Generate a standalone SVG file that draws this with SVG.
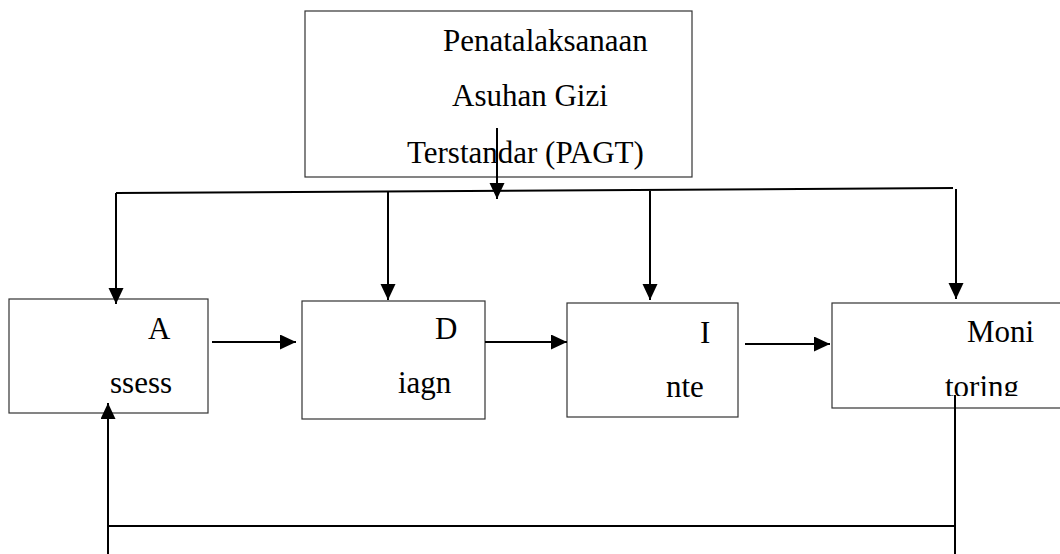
<svg xmlns="http://www.w3.org/2000/svg" width="1060" height="554" viewBox="0 0 1060 554">
<style>
.box{fill:#fff;stroke:#333;stroke-width:1.2}
.t{font-family:"Liberation Serif","Times New Roman",serif;font-size:31px;fill:#000}
.c{fill:none;stroke:#000;stroke-width:2}
</style>
<defs>
<marker id="ah" markerUnits="userSpaceOnUse" markerWidth="18" markerHeight="16" refX="16" refY="7.5" orient="auto">
<path d="M0,0 L16,7.5 L0,15 Z" fill="#000"/>
</marker>
<clipPath id="mclip"><rect x="831" y="303" width="229" height="93"/></clipPath>
</defs>
<g id="pagt">
<rect class="box" x="305" y="11" width="387" height="166"/>
<text class="t" x="443" y="51">Penatalaksanaan</text>
<text class="t" x="452" y="106">Asuhan Gizi</text>
<text class="t" x="407" y="163">Terstandar (PAGT)</text>
</g>
<g id="assess">
<rect class="box" x="9" y="299" width="199" height="114"/>
<text class="t" x="148" y="339">A</text>
<text class="t" x="110" y="393">ssess</text>
</g>
<g id="diagn">
<rect class="box" x="302" y="301" width="183" height="118"/>
<text class="t" x="435" y="339">D</text>
<text class="t" x="398" y="393">iagn</text>
</g>
<g id="inte">
<rect class="box" x="567" y="303" width="171" height="114"/>
<text class="t" x="700" y="343">I</text>
<text class="t" x="666" y="397">nte</text>
</g>
<g id="monitoring">
<rect class="box" x="832" y="303" width="240" height="105"/>
<text class="t" x="967" y="342">Moni</text>
<text class="t" x="945" y="397" clip-path="url(#mclip)">toring</text>
</g>
<g id="connectors">
<line class="c" x1="116" y1="193" x2="953" y2="188"/>
<line class="c" x1="497" y1="128" x2="497" y2="199" marker-end="url(#ah)"/>
<line class="c" x1="116" y1="193" x2="116" y2="304" marker-end="url(#ah)"/>
<line class="c" x1="388" y1="192" x2="388" y2="300" marker-end="url(#ah)"/>
<line class="c" x1="650" y1="191" x2="650" y2="300" marker-end="url(#ah)"/>
<line class="c" x1="956" y1="189" x2="956" y2="299" marker-end="url(#ah)"/>
<line class="c" x1="212" y1="342" x2="296" y2="342" marker-end="url(#ah)"/>
<line class="c" x1="485" y1="342" x2="567" y2="342" marker-end="url(#ah)"/>
<line class="c" x1="745" y1="344" x2="830" y2="344" marker-end="url(#ah)"/>
<line class="c" x1="955" y1="395" x2="955" y2="554"/>
<line class="c" x1="108" y1="526" x2="955" y2="526"/>
<line class="c" x1="108" y1="554" x2="108" y2="403" marker-end="url(#ah)"/>
</g>
</svg>
